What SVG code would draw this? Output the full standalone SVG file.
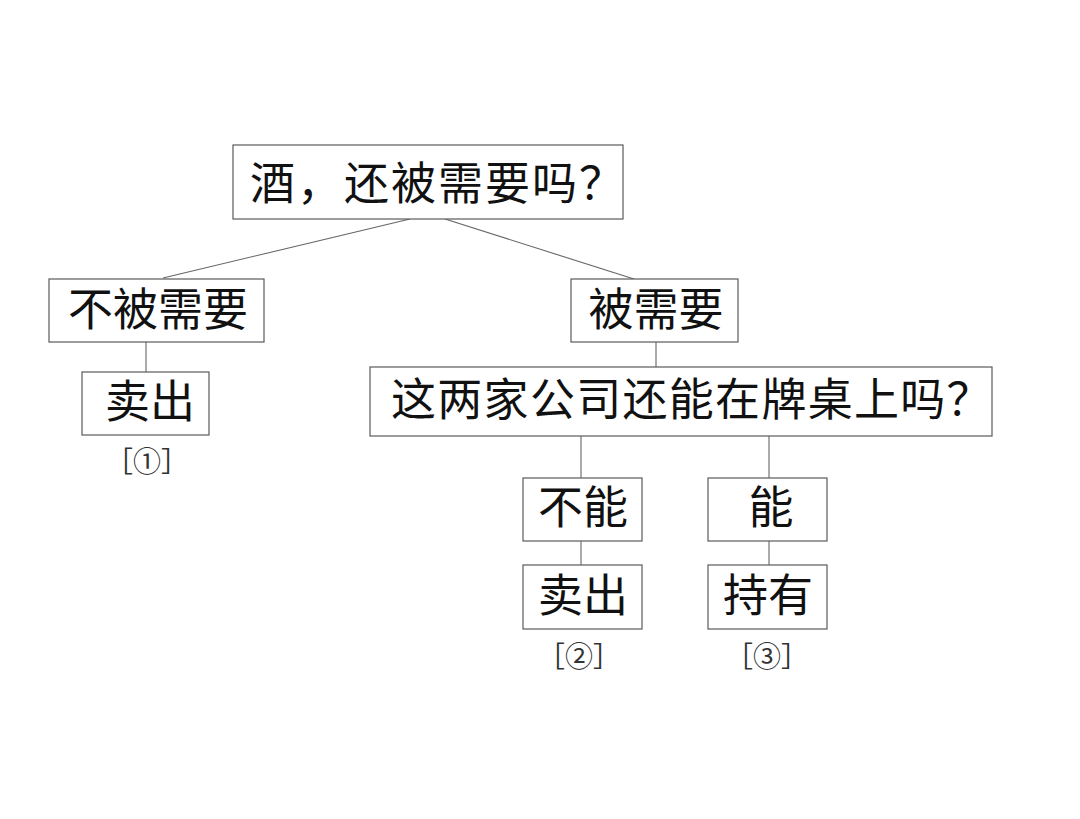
<svg xmlns="http://www.w3.org/2000/svg" width="1080" height="819" viewBox="0 0 1080 819">
<style>
.box{fill:#fff;stroke:#5a5a5a;stroke-width:1.2}
.t{font-family:"Liberation Serif","Noto Sans CJK SC",serif;font-size:45px;fill:#111;text-anchor:middle;dominant-baseline:central}
.n{font-family:"Liberation Serif","Noto Sans CJK SC",serif;font-size:28px;fill:#333;text-anchor:middle;dominant-baseline:central}
.c{stroke:#666;stroke-width:1.1;fill:none}
</style>
<rect width="1080" height="819" fill="#fff"/>
<g id="connectors">
<line class="c" x1="410" y1="219" x2="163" y2="278"/>
<line class="c" x1="445" y1="219" x2="634" y2="279"/>
<line class="c" x1="146" y1="342" x2="146" y2="372"/>
<line class="c" x1="656" y1="342" x2="656" y2="367"/>
<line class="c" x1="581" y1="436" x2="581" y2="478"/>
<line class="c" x1="769" y1="436" x2="769" y2="478"/>
<line class="c" x1="581" y1="541" x2="581" y2="565"/>
<line class="c" x1="769" y1="541" x2="769" y2="565"/>
</g>
<g id="root"><rect class="box" x="233" y="145" width="390" height="74"/><text class="t" x="250" y="185" style="text-anchor:start;letter-spacing:2px">酒，还被需要吗？</text></g>
<g id="not-needed"><rect class="box" x="49" y="279" width="215" height="63"/><text class="t" x="158" y="311">不被需要</text></g>
<g id="sell1"><rect class="box" x="82" y="372" width="127" height="63"/><text class="t" x="150" y="403">卖出</text></g>
<g id="label1"><text class="n" x="147" y="462">［①］</text></g>
<g id="needed"><rect class="box" x="571" y="279" width="167" height="63"/><text class="t" x="656" y="311">被需要</text></g>
<g id="question2"><rect class="box" x="370" y="367" width="622" height="69"/><text class="t" x="391" y="401" style="text-anchor:start;letter-spacing:1.3px">这两家公司还能在牌桌上吗？</text></g>
<g id="cannot"><rect class="box" x="523" y="478" width="119" height="63"/><text class="t" x="583" y="509">不能</text></g>
<g id="can"><rect class="box" x="708" y="478" width="119" height="63"/><text class="t" x="771" y="509">能</text></g>
<g id="sell2"><rect class="box" x="523" y="565" width="119" height="64"/><text class="t" x="583" y="597">卖出</text></g>
<g id="hold"><rect class="box" x="708" y="565" width="119" height="64"/><text class="t" x="768" y="597">持有</text></g>
<g id="label2"><text class="n" x="579" y="657">［②］</text></g>
<g id="label3"><text class="n" x="767" y="657">［③］</text></g>
</svg>
